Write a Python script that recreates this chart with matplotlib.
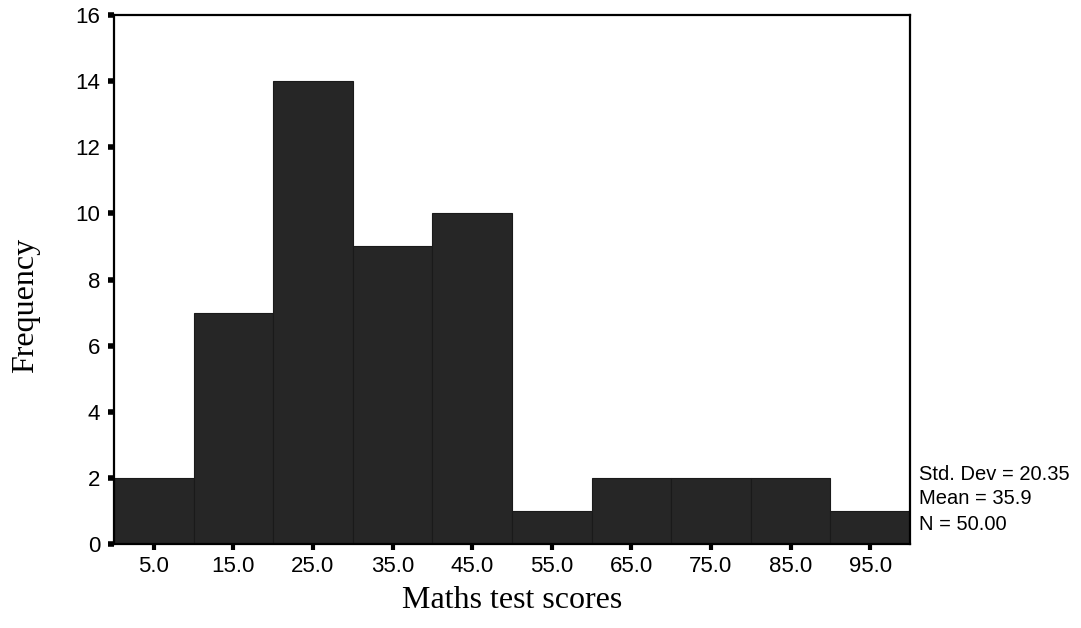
import matplotlib
matplotlib.use("Agg")
import matplotlib.pyplot as plt
import numpy as np

bin_edges = [0, 10, 20, 30, 40, 50, 60, 70, 80, 90, 100]
frequencies = [2, 7, 14, 9, 10, 1, 2, 2, 2, 1]
tick_positions = [5, 15, 25, 35, 45, 55, 65, 75, 85, 95]
tick_labels = ["5.0", "15.0", "25.0", "35.0", "45.0", "55.0", "65.0", "75.0", "85.0", "95.0"]
y_ticks = [0, 2, 4, 6, 8, 10, 12, 14, 16]
stats_lines = ["Std. Dev = 20.35", "Mean = 35.9", "N = 50.00"]

fig = plt.figure(figsize=(10.81, 6.28), dpi=100)
ax = fig.add_axes([114/1081, 1 - 544/628, (910-114)/1081, (544-15)/628])

lefts = np.array(bin_edges[:-1])
widths = np.diff(bin_edges)
ax.bar(lefts, frequencies, width=widths, align="edge", color="#262626",
       edgecolor="#1a1a1a", linewidth=0.8)

ax.set_xlim(0, 100)
ax.set_ylim(0, 16)
ax.set_xticks(tick_positions)
ax.set_xticklabels(tick_labels, family="Liberation Sans", fontsize=16)
ax.set_yticks(y_ticks)
ax.set_yticklabels([str(v) for v in y_ticks], family="Liberation Sans", fontsize=16)
ax.tick_params(axis="x", direction="out", length=4, width=3, pad=5)
ax.tick_params(axis="y", direction="out", length=4, width=4, pad=6)

for s in ax.spines.values():
    s.set_linewidth(1.6)
    s.set_color("black")

ax.set_xlabel("Maths test scores", family="Liberation Serif", fontsize=23, labelpad=6)
fig.text(26/1081, 1 - 305/628, "Frequency", family="Liberation Serif", fontsize=23,
         rotation=90, ha="center", va="center")

for i, line in enumerate(stats_lines):
    fig.text(919/1081, 1 - (474 + 25*i)/628, line, family="Liberation Sans",
             fontsize=14.5, va="center", ha="left")

fig.savefig("out.png", dpi=100)
